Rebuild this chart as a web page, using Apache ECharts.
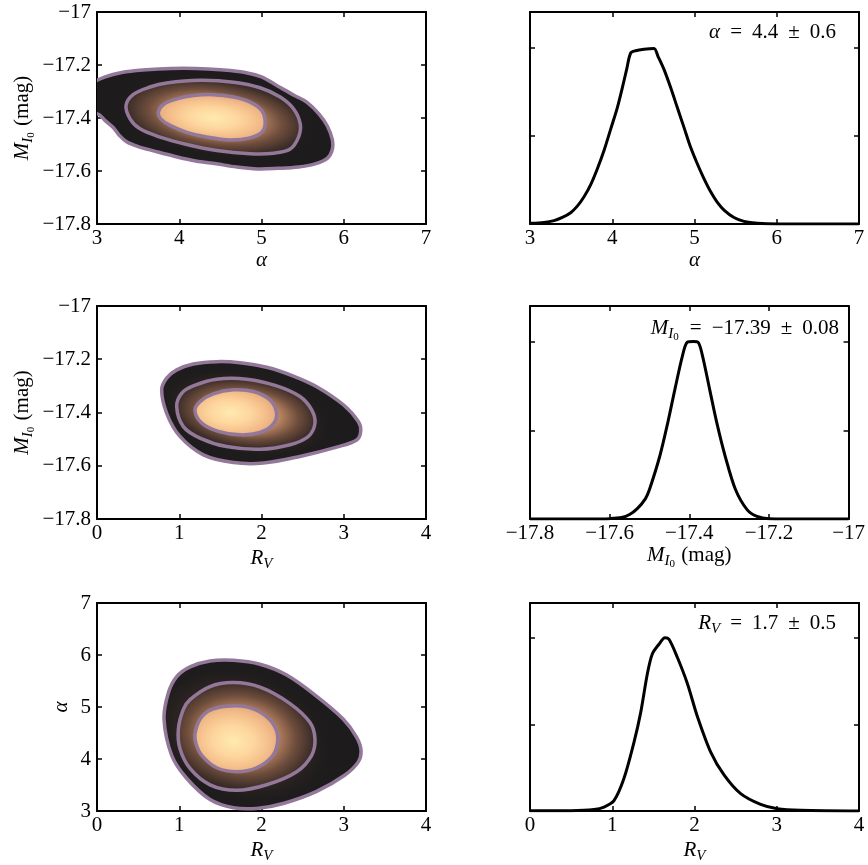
<!DOCTYPE html>
<html>
<head>
<meta charset="utf-8">
<script src="https://cdn.jsdelivr.net/npm/echarts@6/dist/echarts.min.js"></script>
<style>
html, body { margin: 0; padding: 0; background: #fff; }
#chart { width: 868px; height: 865px; }
</style>
</head>
<body>
<div id="chart"></div>
<script>
// ---- 2D posteriors: outer / middle / inner contour ----
var alphaMagOuter = [[2.95,-17.272],[3.10,-17.245],[3.30,-17.228],[3.60,-17.218],[3.90,-17.213],[4.20,-17.213],[4.50,-17.218],[4.80,-17.228],[5.00,-17.245],[5.20,-17.280],[5.40,-17.315],[5.55,-17.340],[5.70,-17.385],[5.80,-17.430],[5.86,-17.480],[5.86,-17.520],[5.80,-17.552],[5.65,-17.573],[5.45,-17.585],[5.20,-17.590],[4.95,-17.592],[4.70,-17.585],[4.45,-17.573],[4.20,-17.562],[3.95,-17.545],[3.70,-17.525],[3.50,-17.508],[3.36,-17.490],[3.27,-17.465],[3.20,-17.437],[3.10,-17.410],[3.03,-17.388],[2.95,-17.375]];
var alphaMagMid = [[3.353,-17.353],[3.442,-17.311],[3.645,-17.283],[3.848,-17.268],[4.254,-17.258],[4.659,-17.265],[4.984,-17.286],[5.227,-17.321],[5.389,-17.365],[5.471,-17.422],[5.450,-17.472],[5.349,-17.517],[5.146,-17.533],[4.862,-17.535],[4.456,-17.523],[4.091,-17.500],[3.767,-17.472],[3.523,-17.441],[3.402,-17.403]];
var alphaMagInner = [[3.746,-17.378],[3.807,-17.349],[3.970,-17.328],[4.172,-17.315],[4.416,-17.312],[4.659,-17.321],[4.862,-17.340],[5.004,-17.372],[5.045,-17.416],[5.004,-17.454],[4.862,-17.475],[4.619,-17.483],[4.335,-17.472],[4.091,-17.454],[3.888,-17.428],[3.775,-17.403]];
var alphaMagPeak = [4.42, -17.40];

var rvMagOuter = [[0.786,-17.315],[0.847,-17.271],[0.969,-17.240],[1.171,-17.218],[1.455,-17.209],[1.739,-17.213],[2.063,-17.230],[2.387,-17.263],[2.671,-17.303],[2.995,-17.371],[3.177,-17.434],[3.206,-17.471],[3.157,-17.503],[2.914,-17.530],[2.468,-17.565],[2.022,-17.590],[1.658,-17.588],[1.293,-17.559],[1.009,-17.490],[0.847,-17.403]];
var rvMagMid = [[0.969,-17.378],[1.029,-17.328],[1.171,-17.300],[1.455,-17.275],[1.820,-17.275],[2.184,-17.300],[2.468,-17.340],[2.610,-17.390],[2.650,-17.440],[2.569,-17.490],[2.346,-17.521],[1.982,-17.538],[1.576,-17.528],[1.252,-17.496],[1.050,-17.453]];
var rvMagInner = [[1.191,-17.393],[1.252,-17.359],[1.414,-17.330],[1.658,-17.315],[1.901,-17.321],[2.103,-17.353],[2.184,-17.403],[2.136,-17.446],[1.982,-17.475],[1.739,-17.484],[1.475,-17.471],[1.273,-17.440]];
var rvMagPeak = [1.62, -17.40];

var rvAlphaOuter = [[0.815,4.764],[0.867,5.268],[0.969,5.583],[1.131,5.772],[1.374,5.885],[1.658,5.898],[1.982,5.822],[2.306,5.614],[2.671,5.205],[2.995,4.764],[3.157,4.417],[3.210,4.165],[3.177,3.945],[3.015,3.693],[2.671,3.378],[2.265,3.145],[1.941,3.050],[1.658,3.063],[1.374,3.220],[1.090,3.630],[0.908,4.071]];
var rvAlphaMid = [[0.989,4.575],[1.050,4.953],[1.131,5.142],[1.374,5.394],[1.658,5.469],[1.982,5.381],[2.346,5.066],[2.590,4.701],[2.650,4.386],[2.610,4.071],[2.428,3.756],[2.063,3.504],[1.698,3.397],[1.374,3.504],[1.131,3.819],[1.009,4.197]];
var rvAlphaInner = [[1.191,4.480],[1.252,4.764],[1.374,4.940],[1.576,5.016],[1.820,5.003],[2.043,4.840],[2.176,4.575],[2.193,4.291],[2.124,4.039],[1.941,3.831],[1.698,3.756],[1.455,3.831],[1.273,4.071],[1.204,4.291]];
var rvAlphaPeak = [1.66, 4.35];

// ---- 1D marginals (peak normalised to 1) ----
var alphaPdf = [[3.0,0.004],[3.17,0.009],[3.292,0.019],[3.393,0.037],[3.494,0.064],[3.575,0.101],[3.657,0.154],[3.738,0.223],[3.819,0.313],[3.9,0.416],[3.981,0.537],[4.062,0.659],[4.123,0.772],[4.175,0.875],[4.224,0.968],[4.285,0.981],[4.386,0.989],[4.508,0.993],[4.556,0.949],[4.629,0.875],[4.71,0.772],[4.791,0.659],[4.872,0.547],[4.953,0.434],[5.034,0.341],[5.115,0.257],[5.197,0.182],[5.278,0.122],[5.359,0.079],[5.48,0.037],[5.602,0.015],[5.764,0.004],[6.007,0],[7.0,0]];
var magPdf = [[-17.8,0],[-17.65,0],[-17.6,0.002],[-17.57,0.008],[-17.55,0.025],[-17.53,0.06],[-17.51,0.115],[-17.5,0.166],[-17.474,0.355],[-17.454,0.543],[-17.436,0.732],[-17.417,0.921],[-17.405,0.996],[-17.39,1.0],[-17.378,0.996],[-17.367,0.921],[-17.349,0.732],[-17.331,0.543],[-17.31,0.355],[-17.284,0.166],[-17.255,0.053],[-17.23,0.015],[-17.2,0.002],[-17.1,0],[-17.0,0]];
var rvPdf = [[0,0.001],[0.5,0.002],[0.778,0.009],[0.9,0.023],[1.021,0.06],[1.143,0.189],[1.264,0.396],[1.345,0.566],[1.427,0.792],[1.487,0.906],[1.568,0.962],[1.641,1.0],[1.69,0.991],[1.791,0.887],[1.913,0.736],[2.034,0.547],[2.197,0.34],[2.359,0.208],[2.561,0.1],[2.804,0.038],[3.007,0.013],[3.291,0.004],[4.0,0]];

// axis ranges [min, max, step]
var alphaRange = [3, 7, 1];
var magRange = [-17.8, -17, 0.2];
var rvRange = [0, 4, 1];
var pdfRange = [0, 1.2, 0.5];

var FONT = '"Liberation Serif", "Times New Roman", serif';
var RING = '#94789a';

function fmt(v) {
  var s = String(Math.round(Math.abs(v) * 100) / 100);
  return (v < -1e-9 ? '\u2212' : '') + s;
}

var rich = {
  i:  { fontFamily: FONT, fontSize: 21, fontStyle: 'italic', color: '#000', verticalAlign: 'bottom', padding: [0, 0, 4, 0] },
  t:  { fontFamily: FONT, fontSize: 21, color: '#000', verticalAlign: 'bottom', padding: [0, 0, 4, 0] },
  op: { fontFamily: FONT, fontSize: 21, color: '#000', verticalAlign: 'bottom', padding: [0, 10, 4, 10] },
  s1: { fontFamily: FONT, fontSize: 15, fontStyle: 'italic', color: '#000', verticalAlign: 'bottom', padding: [0, 0, 1, 0] },
  s2: { fontFamily: FONT, fontSize: 11, color: '#000', verticalAlign: 'bottom', padding: [0, 1, 0, 0] }
};
var MAG = '{i|M}{s1|I}{s2|0}{t| (mag)}';
var ALPHA = '{i|α}';
var RV = '{i|R}{s1|V}';

var lineStyle = { color: '#000', width: 2 };
var tickStyle = { inside: true, length: 5, lineStyle: { color: '#000', width: 1.5 } };

function axisPair(dir, gi, r, name, gap, labels) {
  var main = {
    type: 'value', gridIndex: gi, min: r[0], max: r[1], interval: r[2],
    position: dir === 'x' ? 'bottom' : 'left',
    axisLine: { show: true, onZero: false, lineStyle: lineStyle },
    axisTick: tickStyle,
    axisLabel: { show: labels, color: '#000', fontFamily: FONT, fontSize: 21, margin: dir === 'x' ? 4 : 6, formatter: fmt },
    splitLine: { show: false },
    name: name, nameLocation: 'middle', nameGap: gap,
    nameTextStyle: { rich: rich }
  };
  var twin = {
    type: 'value', gridIndex: gi, min: r[0], max: r[1], interval: r[2],
    position: dir === 'x' ? 'top' : 'right',
    axisLine: { show: true, onZero: false, lineStyle: lineStyle },
    axisTick: tickStyle, axisLabel: { show: false }, splitLine: { show: false }
  };
  return [main, twin];
}

function blob(pts, c, stops) {
  // stretch a radial gradient along the shape's long axis
  var n = pts.length, mx = 0, my = 0, sxx = 0, syy = 0, sxy = 0;
  pts.forEach(function (p) { mx += p[0]; my += p[1]; });
  mx /= n; my /= n;
  pts.forEach(function (p) {
    var dx = p[0] - mx, dy = p[1] - my;
    sxx += dx * dx; syy += dy * dy; sxy += dx * dy;
  });
  var a = 0.5 * Math.atan2(2 * sxy, sxx - syy);
  var ca = Math.cos(a), sa = Math.sin(a), vu = 0, vv = 0;
  pts.forEach(function (p) {
    var dx = p[0] - mx, dy = p[1] - my;
    var u = dx * ca + dy * sa, v = -dx * sa + dy * ca;
    vu += u * u; vv += v * v;
  });
  var k = Math.sqrt(vu / vv), r = 0;
  var local = pts.map(function (p) {
    var dx = p[0] - c[0], dy = p[1] - c[1];
    var q = [(dx * ca + dy * sa) / k, -dx * sa + dy * ca];
    r = Math.max(r, Math.sqrt(q[0] * q[0] + q[1] * q[1]));
    return q;
  });
  return {
    type: 'polygon', x: c[0], y: c[1], scaleX: k, rotation: -a,
    shape: { points: local, smooth: 0.35 },
    style: { fill: { type: 'radial', x: 0, y: 0, r: r, global: true, colorStops: stops }, stroke: 'none' }
  };
}

function ring(pts) {
  return { type: 'polygon', shape: { points: pts, smooth: 0.35 }, style: { fill: 'none', stroke: RING, lineWidth: 3.5 } };
}

function centroid(pts) {
  var x = 0, y = 0;
  pts.forEach(function (p) { x += p[0]; y += p[1]; });
  return [x / pts.length, y / pts.length];
}

var OUTER_STOPS = [{ offset: 0, color: '#3a2c26' }, { offset: 0.55, color: '#2a2321' }, { offset: 0.7, color: '#1e1c1c' }, { offset: 1, color: '#1c1b1b' }];
var MID_STOPS = [{ offset: 0, color: '#d89f73' }, { offset: 0.45, color: '#b98462' }, { offset: 0.7, color: '#6e4d3c' }, { offset: 0.9, color: '#40302a' }, { offset: 1, color: '#2e2623' }];
var INNER_STOPS = [{ offset: 0, color: '#ffeab0' }, { offset: 0.45, color: '#fdd59c' }, { offset: 0.8, color: '#f2ba88' }, { offset: 1, color: '#e3a87c' }];

function contourSeries(ai, outer, mid, inner, peak) {
  return {
    type: 'custom', xAxisIndex: ai, yAxisIndex: ai, clip: true, silent: true,
    data: [peak],
    renderItem: function (params, api) {
      var px = function (pts) { return pts.map(function (p) { return api.coord(p); }); };
      var o = px(outer), m = px(mid), n = px(inner);
      var pk = api.coord([api.value(0), api.value(1)]);
      return {
        type: 'group',
        children: [
          blob(o, centroid(m), OUTER_STOPS),
          blob(m, centroid(m), MID_STOPS),
          blob(n, pk, INNER_STOPS),
          ring(o), ring(m), ring(n)
        ]
      };
    }
  };
}

function pdfSeries(ai, data) {
  return {
    type: 'line', xAxisIndex: ai, yAxisIndex: ai, data: data,
    showSymbol: false, smooth: 0.3, silent: true,
    lineStyle: { color: '#000', width: 3 }
  };
}

var grids = [
  { left: 97, top: 12, width: 329, height: 212 },
  { left: 530, top: 12, width: 329, height: 212 },
  { left: 97, top: 306, width: 329, height: 213 },
  { left: 530, top: 306, width: 329, height: 213 },
  { left: 97, top: 603, width: 329, height: 212 },
  { left: 530, top: 603, width: 329, height: 212 }
];

// main axes get even indices, their twins odd ones; series use the main ones
var xAxes = [], yAxes = [];
[
  [alphaRange, ALPHA, 25, magRange, MAG, 60, true],
  [alphaRange, ALPHA, 25, pdfRange, '', 0, false],
  [rvRange, RV, 29, magRange, MAG, 60, true],
  [magRange, MAG, 23, pdfRange, '', 0, false],
  [rvRange, RV, 29, alphaRange, ALPHA, 21, true],
  [rvRange, RV, 29, pdfRange, '', 0, false]
].forEach(function (d, gi) {
  xAxes = xAxes.concat(axisPair('x', gi, d[0], d[1], d[2], true));
  yAxes = yAxes.concat(axisPair('y', gi, d[3], d[4], d[5], d[6]));
});

var chart = echarts.init(document.getElementById('chart'), null, { renderer: 'canvas' });
chart.setOption({
  backgroundColor: '#fff',
  animation: false,
  grid: grids,
  xAxis: xAxes,
  yAxis: yAxes,
  series: [
    contourSeries(0, alphaMagOuter, alphaMagMid, alphaMagInner, alphaMagPeak),
    pdfSeries(2, alphaPdf),
    contourSeries(4, rvMagOuter, rvMagMid, rvMagInner, rvMagPeak),
    pdfSeries(6, magPdf),
    contourSeries(8, rvAlphaOuter, rvAlphaMid, rvAlphaInner, rvAlphaPeak),
    pdfSeries(10, rvPdf)
  ],
  graphic: [
    { type: 'text', x: 836, y: 34, silent: true, style: { text: '{i|α}{op|=}{t|4.4}{op|±}{t|0.6}', rich: rich, align: 'right', verticalAlign: 'middle' } },
    { type: 'text', x: 839, y: 330, silent: true, style: { text: '{i|M}{s1|I}{s2|0}{op|=}{t|\u221217.39}{op|±}{t|0.08}', rich: rich, align: 'right', verticalAlign: 'middle' } },
    { type: 'text', x: 836, y: 625, silent: true, style: { text: '{i|R}{s1|V}{op|=}{t|1.7}{op|±}{t|0.5}', rich: rich, align: 'right', verticalAlign: 'middle' } }
  ]
});
</script>
</body>
</html>
